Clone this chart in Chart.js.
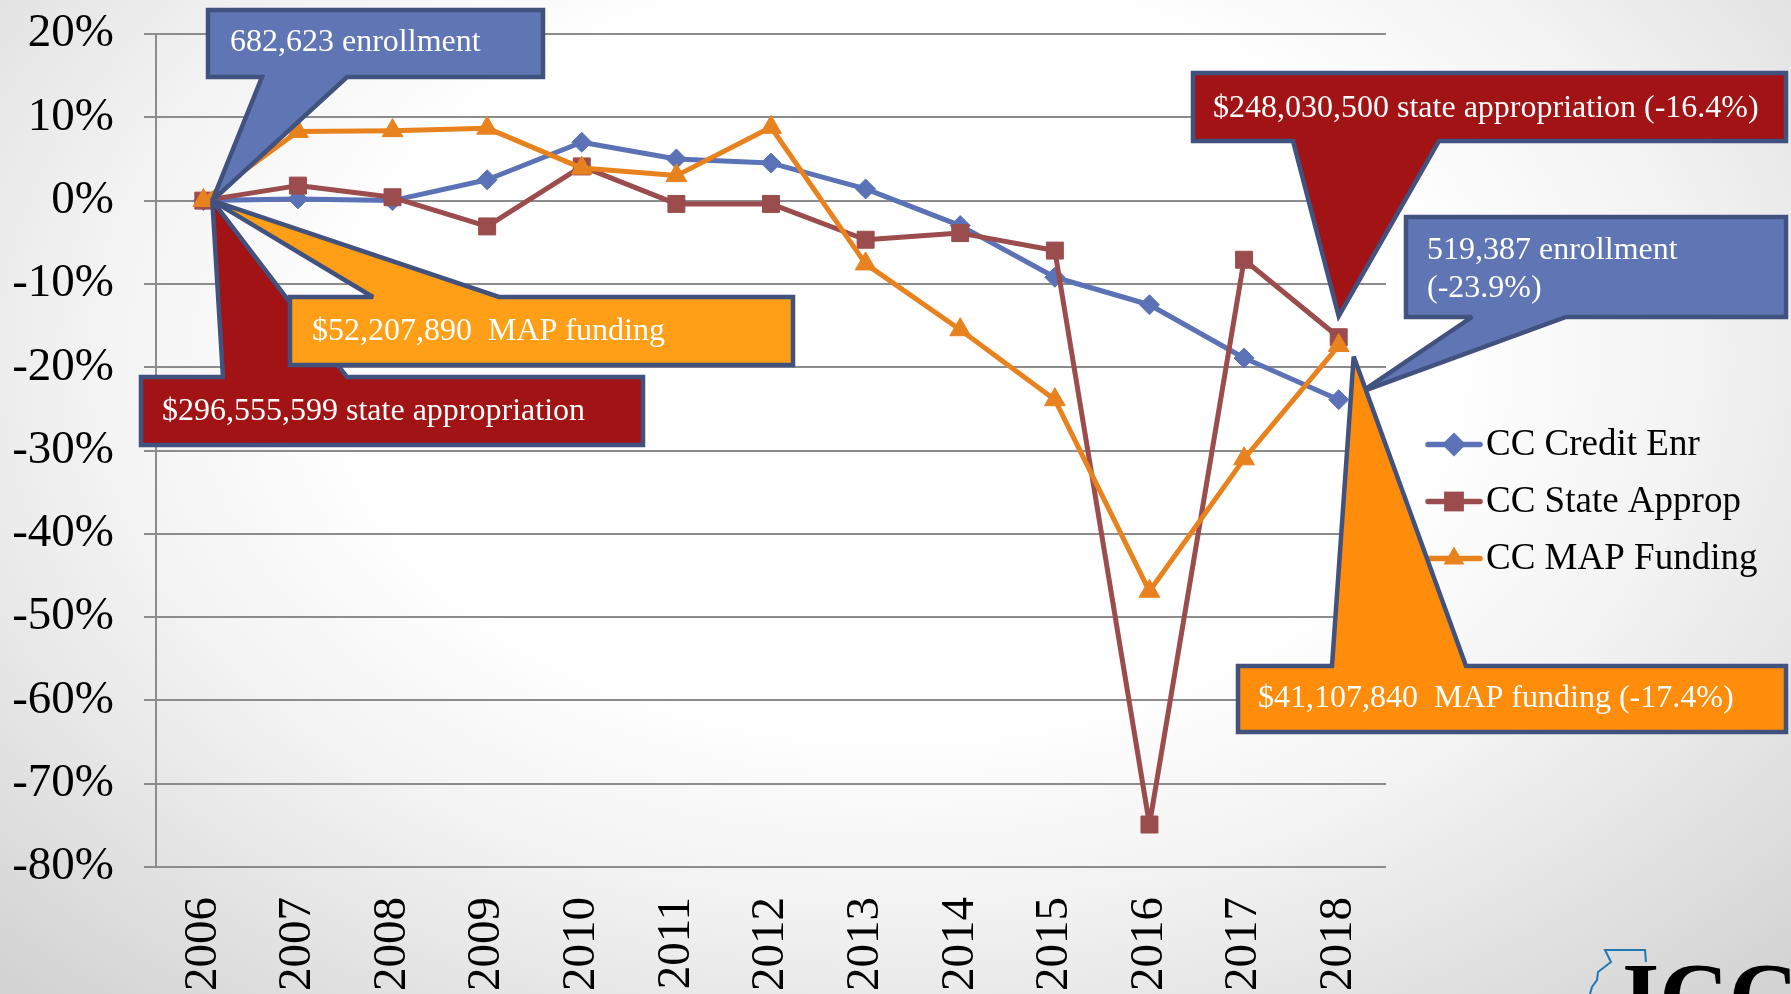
<!DOCTYPE html>
<html>
<head>
<meta charset="utf-8">
<script src="https://cdn.jsdelivr.net/npm/chart.js@4.4.1/dist/chart.umd.min.js"></script>
<style>
html, body { margin:0; padding:0; width:1791px; height:994px; overflow:hidden;
  background: radial-gradient(ellipse 72% 88% at 50% 36%, #ffffff 42%, #f3f3f3 62%, #d2d2d2 100%); }
#wrap { position:relative; width:1791px; height:994px; }
</style>
</head>
<body>
<div id="wrap"><canvas id="c"></canvas></div>
<script>
// ---------------- data ----------------
const categories   = ['2006','2007','2008','2009','2010','2011','2012','2013','2014','2015','2016','2017','2018'];
const creditEnr    = [0, 0.2, 0.0, 2.5, 7.0, 5.0, 4.5, 1.4, -3.0, -9.2, -12.5, -18.9, -23.9];
const stateApprop  = [0, 1.8, 0.4, -3.1, 4.1, -0.4, -0.4, -4.7, -3.9, -6.0, -74.9, -7.1, -16.4];
const mapFunding   = [0, 8.3, 8.4, 8.7, 3.9, 3.0, 8.8, -7.6, -15.5, -23.9, -46.9, -31.0, -17.4];
const seriesNames  = ['CC Credit Enr', 'CC State Approp', 'CC MAP Funding'];
const yTickValues  = [20, 10, 0, -10, -20, -30, -40, -50, -60, -70, -80];
const calloutTexts = [
  ['$296,555,599 state appropriation'],
  ['$52,207,890  MAP funding'],
  ['682,623 enrollment'],
  ['$248,030,500 state appropriation (-16.4%)'],
  ['519,387 enrollment', '(-23.9%)'],
  ['$41,107,840  MAP funding (-17.4%)']
];

// ---------------- styles ----------------
const SERIF = "'Liberation Serif','Times New Roman',serif";
const BLUE = '#5B73B6', RED = '#9B4C4C', ORANGE = '#E8821E';
const pointStyles = ['rectRot', 'rect', 'triangle'];
const colors = [BLUE, RED, ORANGE];

// callout layout (pixels) : box, pointer side, pointer base, anchor (dataset, index), tip offset
const calloutLayout = [
  { x0:141,  y0:377, x1:643,  y1:445, side:'top',    b0:223,  b1:347,  ds:1, idx:0,  dx:9,  dy:0,   fill:'#A11314', tx:162,  ty:[420] },
  { x0:290,  y0:297, x1:793,  y1:365, side:'top',    b0:373,  b1:499,  ds:2, idx:0,  dx:9,  dy:0,   fill:'#FF9F17', tx:312,  ty:[340] },
  { x0:208,  y0:10,  x1:543,  y1:77,  side:'bottom', b0:262,  b1:347,  ds:0, idx:0,  dx:9,  dy:0,   fill:'#6076B4', tx:230,  ty:[51] },
  { x0:1193, y0:73,  x1:1786, y1:141, side:'bottom', b0:1293, b1:1439, ds:1, idx:12, dx:0,  dy:-21, fill:'#A11314', tx:1213, ty:[117] },
  { x0:1406, y0:217, x1:1786, y1:317, side:'bottom', b0:1472, b1:1566, ds:0, idx:12, dx:23, dy:-8,  fill:'#6076B4', tx:1427, ty:[259, 297] },
  { x0:1238, y0:666, x1:1786, y1:732, side:'top',    b0:1332, b1:1466, ds:2, idx:12, dx:15, dy:11,  fill:'#FF8C0A', tx:1258, ty:[707] }
];

function drawMarker(ctx, style, x, y, r, color) {
  ctx.save();
  ctx.fillStyle = color;
  ctx.beginPath();
  if (style === 'rectRot') {
    ctx.moveTo(x, y - r); ctx.lineTo(x + r, y); ctx.lineTo(x, y + r); ctx.lineTo(x - r, y);
  } else if (style === 'rect') {
    const s = r * Math.SQRT1_2;
    ctx.rect(x - s, y - s, 2 * s, 2 * s);
  } else {
    ctx.moveTo(x, y - r); ctx.lineTo(x + r * 0.87, y + r * 0.5); ctx.lineTo(x - r * 0.87, y + r * 0.5);
  }
  ctx.closePath();
  ctx.fill();
  ctx.restore();
}

const overlayPlugin = {
  id: 'overlay',
  afterDraw(chart) {
    const ctx = chart.ctx;
    const xs = chart.scales.x, ys = chart.scales.y;
    const dataSets = [creditEnr, stateApprop, mapFunding];

    // legend
    const rowsY = [444.5, 501.5, 558.5];
    ctx.save();
    for (let i = 0; i < 3; i++) {
      const y = rowsY[i];
      ctx.strokeStyle = colors[i];
      ctx.lineWidth = 5.5;
      ctx.lineCap = 'round';
      ctx.beginPath(); ctx.moveTo(1428, y); ctx.lineTo(1480, y); ctx.stroke();
      drawMarker(ctx, pointStyles[i], 1454, y, i === 1 ? 14 : 12, colors[i]);
      ctx.fillStyle = '#000';
      ctx.font = '37px ' + SERIF;
      ctx.textBaseline = 'middle';
      ctx.textAlign = 'left';
      ctx.fillText(seriesNames[i], 1486, y + 1);
    }
    ctx.restore();

    // callouts
    calloutLayout.forEach((c, k) => {
      const tip = {
        x: xs.getPixelForValue(c.idx) + c.dx,
        y: ys.getPixelForValue(dataSets[c.ds][c.idx]) + c.dy
      };
      ctx.save();
      ctx.beginPath();
      if (c.side === 'bottom') {
        ctx.moveTo(c.x0, c.y0); ctx.lineTo(c.x1, c.y0); ctx.lineTo(c.x1, c.y1);
        ctx.lineTo(c.b1, c.y1); ctx.lineTo(tip.x, tip.y); ctx.lineTo(c.b0, c.y1);
        ctx.lineTo(c.x0, c.y1);
      } else {
        ctx.moveTo(c.x0, c.y0); ctx.lineTo(c.b0, c.y0); ctx.lineTo(tip.x, tip.y);
        ctx.lineTo(c.b1, c.y0); ctx.lineTo(c.x1, c.y0); ctx.lineTo(c.x1, c.y1);
        ctx.lineTo(c.x0, c.y1);
      }
      ctx.closePath();
      ctx.fillStyle = c.fill;
      ctx.fill();
      ctx.lineWidth = 4.5;
      ctx.strokeStyle = '#42527F';
      ctx.lineJoin = 'miter';
      ctx.miterLimit = 3;
      ctx.stroke();
      ctx.fillStyle = '#ffffff';
      ctx.font = '32px ' + SERIF;
      ctx.textBaseline = 'alphabetic';
      ctx.textAlign = 'left';
      calloutTexts[k].forEach((t, j) => ctx.fillText(t, c.tx, c.ty[j]));
      ctx.restore();
    });

    // logo (partially visible at bottom right)
    ctx.save();
    ctx.strokeStyle = '#1F78B4';
    ctx.lineWidth = 2;
    ctx.beginPath();
    ctx.moveTo(1646, 962); ctx.lineTo(1645, 950); ctx.lineTo(1605, 950);
    ctx.lineTo(1608, 956); ctx.lineTo(1611, 962); ctx.lineTo(1598, 972);
    ctx.lineTo(1597, 980); ctx.lineTo(1592, 987); ctx.lineTo(1590, 994);
    ctx.stroke();
    ctx.fillStyle = '#000';
    ctx.font = 'bold 96px ' + SERIF;
    ctx.textBaseline = 'alphabetic';
    ctx.fillText('ICCB', 1622, 1029);
    ctx.restore();
  }
};

const datasets = [creditEnr, stateApprop, mapFunding].map((d, i) => ({
  label: seriesNames[i],
  data: d,
  borderColor: colors[i],
  backgroundColor: colors[i],
  borderWidth: 5,
  borderJoinStyle: 'round',
  pointStyle: pointStyles[i],
  pointRadius: i === 1 ? 12 : (i === 0 ? 10 : 12),
  pointBorderWidth: 1,
  pointBackgroundColor: colors[i],
  pointBorderColor: colors[i],
  tension: 0,
  order: 3 - i
}));

new Chart(document.getElementById('c'), {
  type: 'line',
  data: { labels: categories, datasets },
  options: {
    responsive: true,
    maintainAspectRatio: false,
    animation: false,
    devicePixelRatio: 1,
    layout: { padding: { left: 0, top: 34, right: 405, bottom: 0 } },
    plugins: { legend: { display: false }, tooltip: { enabled: false } },
    scales: {
      x: {
        offset: true,
        grid: { display: false, drawTicks: false },
        border: { display: false },
        ticks: {
          autoSkip: false, minRotation: 90, maxRotation: 90, padding: 30,
          color: '#000', font: { family: SERIF, size: 47 }
        },
        afterFit: s => { s.height = 127; }
      },
      y: {
        min: -80, max: 20,
        afterBuildTicks: s => { s.ticks = yTickValues.map(v => ({ value: v })); },
        grid: { color: '#8C8C8C', lineWidth: 2, tickLength: 12, drawTicks: true },
        border: { display: true, color: '#8C8C8C', width: 2 },
        ticks: {
          padding: 30, color: '#000', font: { family: SERIF, size: 47, lineHeight: 0.7 },
          callback: v => v + '%'
        },
        afterFit: s => { s.width = 156; s.paddingTop = 0; s.paddingBottom = 0; }
      }
    }
  },
  plugins: [overlayPlugin]
});
</script>
</body>
</html>
